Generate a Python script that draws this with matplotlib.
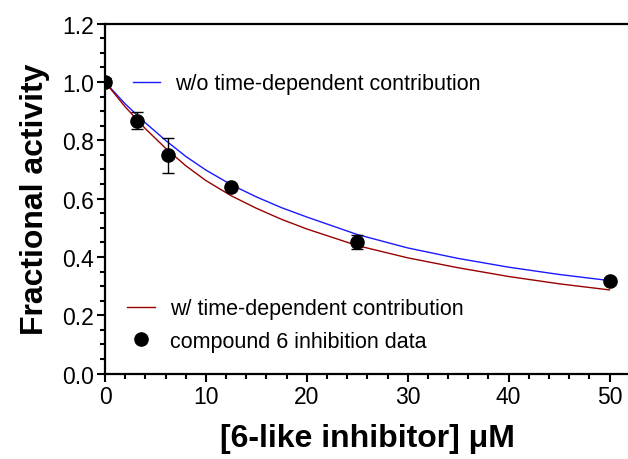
import matplotlib.pyplot as plt
from matplotlib.ticker import MultipleLocator
from matplotlib.lines import Line2D

plt.rcParams['font.family'] = ['Liberation Sans', 'DejaVu Sans']

# measured inhibition data (compound 6)
conc = [0, 3.125, 6.25, 12.5, 25, 50]
activity = [1.0, 0.868, 0.748, 0.641, 0.452, 0.319]
activity_err = [0.015, 0.029, 0.059, 0.008, 0.023, 0.008]

# model curves
curve_x = [0, 2, 4, 6, 8, 10, 12.5, 15, 17.5, 20, 25, 30, 35, 40, 45, 50]
curve_no_td = [1.000, 0.925, 0.860, 0.800, 0.745, 0.698, 0.648, 0.606, 0.569,
               0.537, 0.477, 0.431, 0.395, 0.365, 0.340, 0.319]
curve_td = [1.000, 0.915, 0.840, 0.773, 0.713, 0.662, 0.610, 0.567, 0.529,
            0.496, 0.439, 0.397, 0.363, 0.333, 0.308, 0.287]

W, H = 628, 460
fig = plt.figure(figsize=(W / 100, H / 100), dpi=100)
ax = fig.add_axes([105 / W, 1 - 374.6 / H, 524.7 / W, 349.9 / H])

ax.plot(curve_x, curve_no_td, color='#1a1aff', lw=1.0, zorder=2)
ax.plot(curve_x, curve_td, color='#990000', lw=1.0, zorder=2)
ax.errorbar(conc, activity, yerr=activity_err, fmt='o', color='black',
            ms=9.5, elinewidth=1.0, capsize=4.5, capthick=1.0, zorder=3)

ax.set_xlim(0, 52)
ax.set_ylim(0, 1.2)
ax.xaxis.set_major_locator(MultipleLocator(10))
ax.xaxis.set_minor_locator(MultipleLocator(2))
ax.yaxis.set_major_locator(MultipleLocator(0.2))
ax.yaxis.set_minor_locator(MultipleLocator(0.05))
ax.yaxis.set_major_formatter(plt.FuncFormatter(lambda v, p: f'{v:.1f}'))

for s in ['left', 'bottom', 'top']:
    ax.spines[s].set_linewidth(1.6)
ax.spines['right'].set_visible(False)
ax.tick_params(which='major', direction='out', length=6, width=1.5,
               labelsize=16.5, pad=2)
ax.tick_params(which='minor', direction='out', length=3.5, width=1.5)
ax.tick_params(top=False, right=False, which='both')

ax.set_xlabel('[6-like inhibitor] μM', fontsize=23, fontweight='bold',
              labelpad=11)
ax.set_ylabel('Fractional activity', fontsize=23, fontweight='bold',
              labelpad=9)

h1 = Line2D([], [], color='#1a1aff', lw=1.0)
leg1 = ax.legend([h1], ['w/o time-dependent contribution'], loc='center left',
                 bbox_to_anchor=(133 / W, 1 - 85 / H),
                 bbox_transform=fig.transFigure, frameon=False, fontsize=15.5,
                 borderpad=0, borderaxespad=0, handlelength=1.25,
                 handletextpad=0.7)
ax.add_artist(leg1)

h2 = Line2D([], [], color='#990000', lw=1.0)
h3 = Line2D([], [], color='black', marker='o', ls='none', ms=9.5)
ax.legend([h2, h3], ['w/ time-dependent contribution',
                     'compound 6 inhibition data'],
          loc='center left', bbox_to_anchor=(127 / W, 1 - 326 / H),
          bbox_transform=fig.transFigure, frameon=False, fontsize=15.5,
          borderpad=0, borderaxespad=0, handlelength=1.3, handletextpad=0.7,
          labelspacing=0.55)

fig.savefig('out.png', dpi=100)
